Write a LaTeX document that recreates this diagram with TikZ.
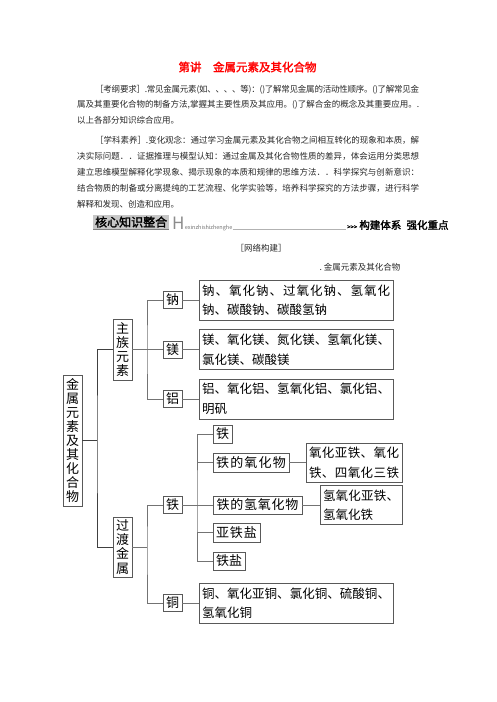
\documentclass[tikz,border=0pt]{standalone}
\usepackage{fontspec}
\setmainfont{Noto Sans CJK SC}
\newfontfamily\cjkb[FakeBold=2]{Noto Sans CJK SC}
\makeatletter
\def\sp@end{SPEND}
\def\sp@glue{\hskip 0pt plus 1fil minus 1pt\relax}
\def\sp@loop#1{\ifx#1\sp@end\else\sp@glue#1\expandafter\sp@loop\fi}
\def\sp@first#1{#1\sp@loop}
\newcommand\spreadline[2]{\makebox[#1][s]{\sp@first#2\sp@end}}
\def\vt@loop#1{\ifx#1\sp@end\else\\#1\expandafter\vt@loop\fi}
\def\vt@first#1{#1\vt@loop}
\newcommand\vtext[1]{\vt@first#1\sp@end}
\makeatother
\begin{document}
\begin{tikzpicture}[x=1pt,y=-1pt,
  box/.style={draw=black!65,line width=0.8pt,inner sep=0pt,align=center,font=\fontsize{13}{14.1}\selectfont},
  desc/.style={draw=black!65,line width=0.8pt,inner xsep=3pt,inner ysep=0pt,align=left,font=\fontsize{12.5}{19.5}\selectfont},
  conn/.style={draw=black!55,line width=0.8pt},
  para/.style={anchor=west,inner sep=0pt,font=\fontsize{8.5}{10}\selectfont,text=black!85}]
\useasboundingbox (0,0) rectangle (496,702);

% title
\node[text=red,font=\cjkb\fontsize{11.5}{12}\selectfont] (title) at (247.5,67) {第讲　金属元素及其化合物};

% paragraphs
\node[para] (p1) at (95,89.5) {\spreadline{324pt}{［考纲要求］.常见金属元素(如、、、、等)：()了解常见金属的活动性顺序。()了解常见金}};
\node[para] (p2) at (77,105) {\spreadline{342pt}{属及其重要化合物的制备方法,掌握其主要性质及其应用。()了解合金的概念及其重要应用。.}};
\node[para] (p3) at (77,120.5) {以上各部分知识综合应用。};
\node[para] (p4) at (95,140) {\spreadline{324pt}{［学科素养］.变化观念：通过学习金属元素及其化合物之间相互转化的现象和本质，解}};
\node[para] (p5) at (77,156) {\spreadline{342pt}{决实际问题．．证据推理与模型认知：通过金属及其化合物性质的差异，体会运用分类思想}};
\node[para] (p6) at (77,172) {\spreadline{342pt}{建立思维模型解释化学现象、揭示现象的本质和规律的思维方法．．科学探究与创新意识：}};
\node[para] (p7) at (77,188.5) {\spreadline{342pt}{结合物质的制备或分离提纯的工艺流程、化学实验等，培养科学探究的方法步骤，进行科学}};
\node[para] (p8) at (77,204.5) {解释和发现、创造和应用。};

% header bar
\node[fill=black!22,inner xsep=2pt,inner ysep=1.5pt,anchor=west,font=\cjkb\fontsize{12}{13}\selectfont] (hdr) at (93,222) {核心知识整合};
\draw[black!50,line width=0.6pt] (hdr.south west) -- (hdr.south east);
\node[anchor=south west,inner sep=0pt,text=black!45,font=\fontsize{17}{17}\selectfont] (H) at (172,230) {H};
\node[anchor=base west,inner sep=0pt,text=black!55,font=\fontsize{5.5}{6}\selectfont] (hx) at (H.base east) {exinzhishizhenghe};
\coordinate (hend) at (346,229.5);
\draw[black!30,line width=0.3pt] (hx.east |- hend) -- (hend);
\node[anchor=base west,inner sep=0pt,font=\cjkb\fontsize{6}{6}\selectfont] (arr) at (347,229) {>>>};
\node[anchor=base west,inner sep=0pt,font=\cjkb\fontsize{10.5}{11}\selectfont] (kj) at (arr.base east) {\,构建体系\enspace 强化重点};

\node[font=\fontsize{8.5}{10}\selectfont,text=black!85] (wl) at (261,248) {［网络构建］};
\node[anchor=east,font=\fontsize{8.5}{10}\selectfont,text=black!85] (jt) at (404,267) {.\ 金属元素及其化合物};

% diagram nodes
\node[box,minimum width=19pt,minimum height=131pt] (root) at (72.5,440.5) {\vtext{金属元素及其化合物}};
\node[box,minimum width=19pt,minimum height=61pt] (zhu) at (122.5,349.5) {\vtext{主族元素}};
\node[box,minimum width=19pt,minimum height=60pt] (guo) at (122.5,547) {\vtext{过渡金属}};
\node[box,minimum width=19pt,minimum height=17pt] (na) at (172.5,300) {钠};
\node[box,minimum width=19pt,minimum height=17pt] (mg) at (172.5,349.5) {镁};
\node[box,minimum width=19pt,minimum height=17pt] (al) at (172.5,399) {铝};
\node[box,minimum width=19pt,minimum height=17pt] (fe) at (172.5,505) {铁};
\node[box,minimum width=19pt,minimum height=17pt] (cu) at (172.5,603) {铜};

\node[desc,text width=188pt,minimum height=40pt] (nad) at (296,300) {\spreadline{188pt}{钠、氧化钠、过氧化钠、氢氧化}\\钠、碳酸钠、碳酸氢钠};
\node[desc,text width=188pt,minimum height=40pt] (mgd) at (296,349.5) {\spreadline{188pt}{镁、氧化镁、氮化镁、氢氧化镁、}\\氯化镁、碳酸镁};
\node[desc,text width=188pt,minimum height=40pt] (ald) at (296,399) {\spreadline{188pt}{铝、氧化铝、氢氧化铝、氯化铝、}\\明矾};
\node[desc,text width=188pt,minimum height=40pt] (cud) at (296,603) {\spreadline{188pt}{铜、氧化亚铜、氯化铜、硫酸铜、}\\氢氧化铜};

\node[box,minimum width=19pt,minimum height=18pt] (fe1) at (222.5,434) {铁};
\node[box,minimum width=76pt,minimum height=19pt] (fe2) at (251,462.5) {\spreadline{70pt}{铁的氧化物}};
\node[box,minimum width=89pt,minimum height=18pt] (fe3) at (257.5,505) {\spreadline{82pt}{铁的氢氧化物}};
\node[box,minimum width=47pt,minimum height=19pt] (fe4) at (236.5,532.5) {\spreadline{41pt}{亚铁盐}};
\node[box,minimum width=32pt,minimum height=18pt] (fe5) at (229,561) {铁盐};

\node[desc,text width=90pt,minimum height=39pt] (fe2d) at (354,462.5) {\spreadline{90pt}{氧化亚铁、氧化}\\\spreadline{90pt}{铁、四氧化三铁}};
\node[desc,text width=76pt,minimum height=39pt] (fe3d) at (361,505) {\spreadline{76pt}{氢氧化亚铁、}\\氢氧化铁};

% connectors
\coordinate (t0) at (97,440.5);
\draw[conn,draw=black!75] (root.east) -- (t0);
\draw[conn,draw=black!75] (zhu.west) -| (t0) |- (guo.west);
\coordinate (t1) at (147,349.5);
\draw[conn] (zhu.east) -- (mg.west);
\draw[conn] (na.west) -| (t1) |- (al.west);
\coordinate (t2) at (147,547);
\draw[conn] (guo.east) -- (t2);
\draw[conn] (fe.west) -| (t2) |- (cu.west);
\draw[conn] (na.east) -- (nad.west);
\draw[conn] (mg.east) -- (mgd.west);
\draw[conn] (al.east) -- (ald.west);
\draw[conn] (cu.east) -- (cud.west);
\coordinate (t3) at (197,505);
\draw[conn] (fe.east) -- (fe3.west);
\draw[conn] (fe1.west) -| (t3) |- (fe5.west);
\draw[conn] (fe2.west) -- (fe2.west -| t3);
\draw[conn] (fe4.west) -- (fe4.west -| t3);
\draw[conn] (fe2.east) -- (fe2d.west);
\draw[conn] (fe3.east) -- (fe3d.west);
\end{tikzpicture}
\end{document}
